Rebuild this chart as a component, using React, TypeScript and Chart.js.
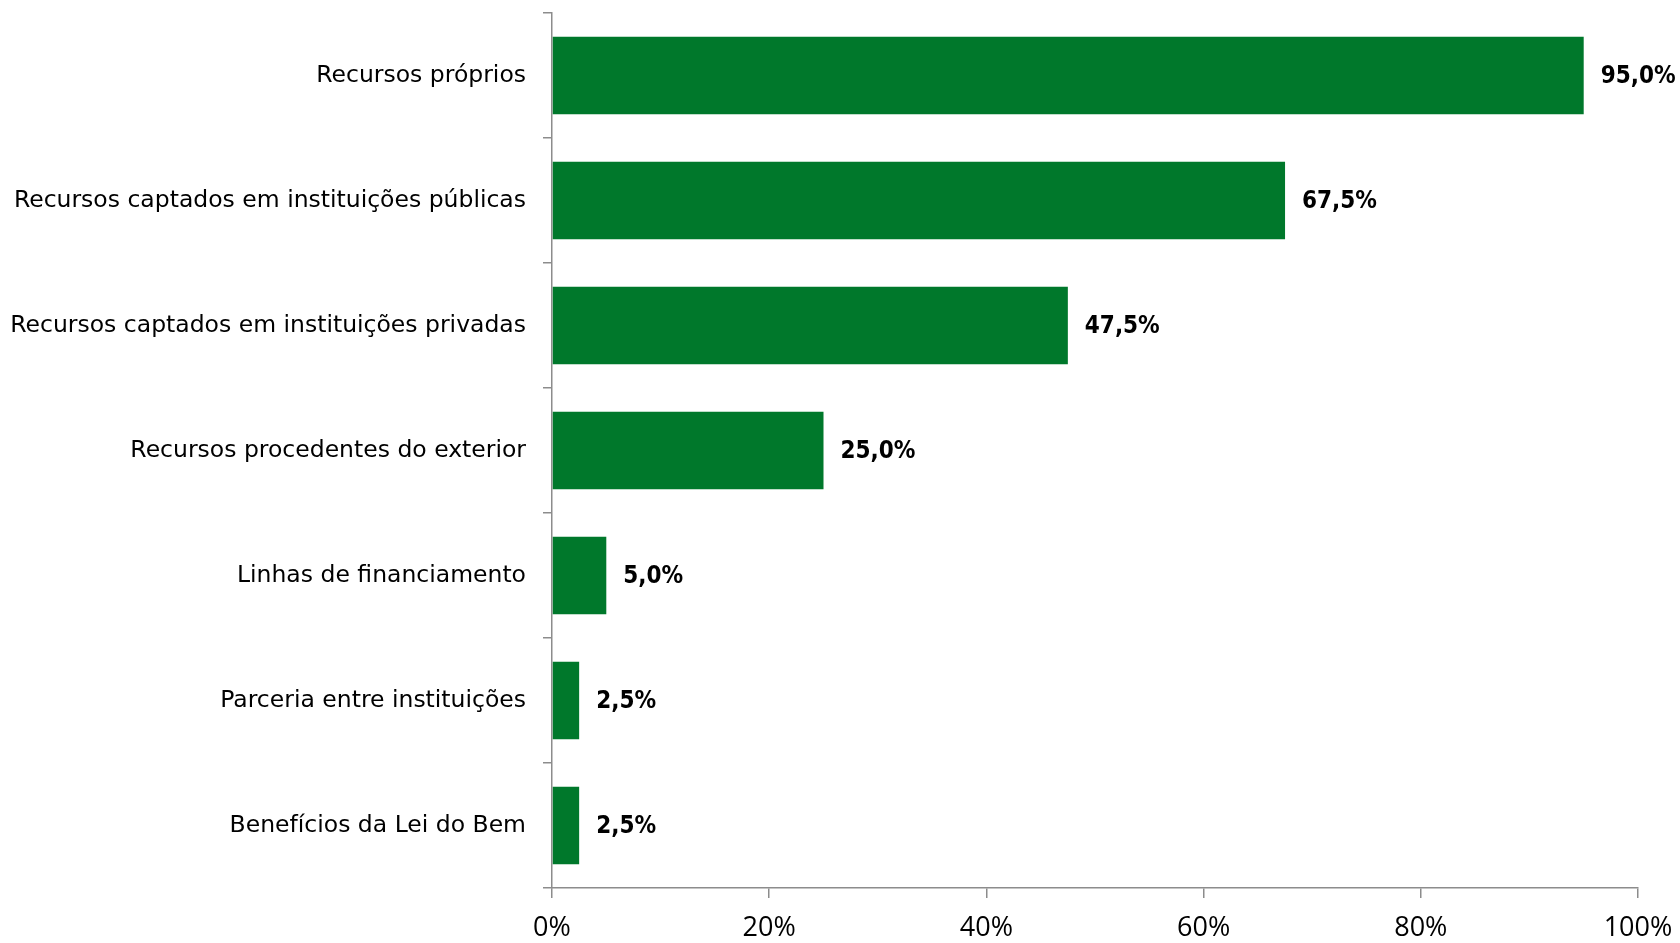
import React, { useEffect, useRef } from "react";
import { Chart, registerables } from "chart.js";

Chart.register(...registerables);

const categories = [
  "Recursos próprios",
  "Recursos captados em instituições públicas",
  "Recursos captados em instituições privadas",
  "Recursos procedentes do exterior",
  "Linhas de financiamento",
  "Parceria entre instituições",
  "Benefícios da Lei do Bem",
];
const values = [95.0, 67.5, 47.5, 25.0, 5.0, 2.5, 2.5];
const valueLabels = ["95,0%", "67,5%", "47,5%", "25,0%", "5,0%", "2,5%", "2,5%"];
const xTickValues = [0, 20, 40, 60, 80, 100];

const BAR_COLOR = "#00782B";
const AXIS_COLOR = "#8c8c8c";
const LABEL_FONT = "'DejaVu Sans', sans-serif";
const VALUE_FONT = "'DejaVu Sans Condensed', 'DejaVu Sans', sans-serif";
const TICK_FONT = "'Open Sans', 'Liberation Sans', sans-serif";

const valueLabelPlugin = {
  id: "valueLabels",
  afterDatasetsDraw(chart: any) {
    const ctx = chart.ctx;
    const meta = chart.getDatasetMeta(0);
    ctx.save();
    ctx.font = `bold 24px ${VALUE_FONT}`;
    ctx.fillStyle = "#000000";
    ctx.textAlign = "left";
    ctx.textBaseline = "middle";
    meta.data.forEach((bar: any, i: number) => {
      ctx.fillText(valueLabels[i], bar.x + 17, bar.y + 1);
    });
    ctx.restore();
  },
};

export default function App() {
  const ref = useRef<HTMLCanvasElement | null>(null);

  useEffect(() => {
    if (!ref.current) return;
    const chart = new Chart(ref.current, {
      type: "bar",
      data: {
        labels: categories,
        datasets: [
          {
            data: values,
            backgroundColor: BAR_COLOR,
            borderWidth: 0,
            barPercentage: 0.62,
            categoryPercentage: 1,
          },
        ],
      },
      options: {
        indexAxis: "y",
        animation: false,
        responsive: true,
        maintainAspectRatio: false,
        layout: { padding: { top: 13, right: 42, left: 0, bottom: 0 } },
        plugins: {
          legend: { display: false },
          tooltip: { enabled: false },
        },
        scales: {
          x: {
            type: "linear",
            min: 0,
            max: 100,
            afterBuildTicks: (scale: any) => {
              scale.ticks = xTickValues.map((v) => ({ value: v }));
            },
            afterFit: (scale: any) => {
              scale.height = 55;
              scale.paddingLeft = 0;
              scale.paddingRight = 0;
            },
            ticks: {
              callback: (v: any) => `${v}%`,
              font: { family: TICK_FONT, size: 27 },
              color: "#000000",
              padding: 14,
              maxRotation: 0,
            },
            grid: {
              drawOnChartArea: false,
              drawTicks: true,
              tickLength: 10,
              color: AXIS_COLOR,
              lineWidth: 1.5,
            },
            border: { display: true, color: AXIS_COLOR, width: 1.5 },
          },
          y: {
            type: "category",
            afterFit: (scale: any) => {
              scale.width = 552;
              scale.paddingTop = 0;
              scale.paddingBottom = 0;
            },
            ticks: {
              font: { family: LABEL_FONT, size: 23.5 },
              color: "#000000",
              padding: 17,
              autoSkip: false,
            },
            grid: {
              offset: true,
              drawOnChartArea: false,
              drawTicks: true,
              tickLength: 9,
              color: AXIS_COLOR,
              lineWidth: 1.5,
            },
            border: { display: true, color: AXIS_COLOR, width: 1.5 },
          },
        },
      },
      plugins: [valueLabelPlugin],
    });
    return () => chart.destroy();
  }, []);

  return (
    <div
      style={{
        position: "absolute",
        left: 0,
        top: 0,
        width: "1680px",
        height: "943px",
        background: "#ffffff",
      }}
    >
      <canvas ref={ref} />
    </div>
  );
}
